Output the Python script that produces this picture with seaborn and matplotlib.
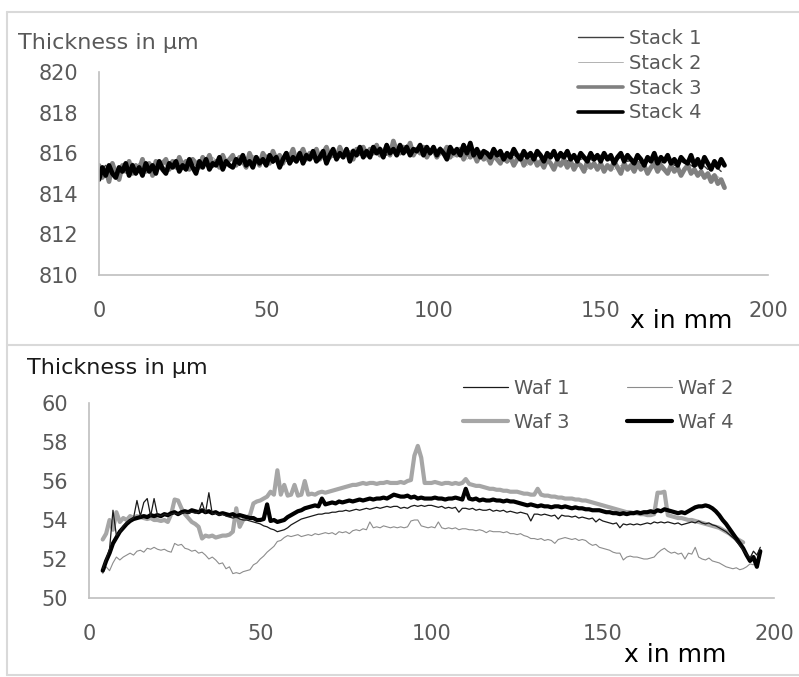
import numpy as np
import matplotlib
matplotlib.use("Agg")
import matplotlib.pyplot as plt
from matplotlib.lines import Line2D
import seaborn as sns

# ── Data : top panel (stacks) ────────────────────────────────────────────────
x_stack_fine = list(range(0, 188))          # mm, 1 mm steps
x_stack_coarse = list(range(0, 188, 2))     # mm, 2 mm steps

stack_4 = [
    814.7, 815.3, 814.9, 815.4, 815.0, 814.8, 815.3, 815.1, 815.5, 814.9,
    815.4, 815.0, 815.3, 814.9, 815.5, 815.1, 815.4, 815.0, 815.6, 815.2,
    815.0, 815.5, 815.3, 815.6, 815.1, 815.4, 815.2, 815.7, 815.3, 815.0,
    815.6, 815.3, 815.7, 815.2, 815.5, 815.4, 815.8, 815.2, 815.6, 815.4,
    815.3, 815.7, 815.5, 815.9, 815.4, 815.6, 815.3, 815.8, 815.5, 815.7,
    815.4, 815.9, 815.6, 815.8, 815.3, 815.7, 816.0, 815.5, 815.8, 815.6,
    816.0, 815.5, 815.9, 815.7, 816.1, 815.6, 815.8, 816.1, 815.5, 815.9,
    816.2, 815.7, 816.0, 815.8, 816.2, 815.6, 816.1, 815.9, 816.3, 815.8,
    816.1, 815.8, 816.3, 816.0, 816.2, 815.8, 816.4, 816.0, 816.2, 815.9,
    816.4, 816.0, 816.3, 815.9, 816.2, 816.1, 816.4, 815.9, 816.3, 816.0,
    816.3, 815.9, 816.2, 816.0, 815.7, 816.3, 816.0, 816.2, 815.9, 816.4,
    816.0, 816.5, 815.9, 816.2, 815.8, 816.1, 816.0, 815.8, 816.2, 815.9,
    816.1, 815.7, 816.0, 815.8, 816.2, 815.9, 815.7, 816.1, 815.8, 816.0,
    815.7, 816.1, 815.9, 815.6, 816.0, 815.8, 816.1, 815.7, 816.0, 815.8,
    816.1, 815.7, 815.9, 815.6, 816.0, 815.8, 815.6, 816.0, 815.7, 815.9,
    815.6, 816.0, 815.7, 815.9, 815.5, 815.8, 816.0, 815.6, 815.9, 815.7,
    815.5, 815.9, 815.7, 815.4, 815.8, 815.6, 816.0, 815.5, 815.8, 815.6,
    815.9, 815.5, 815.7, 815.4, 815.8, 815.6, 815.5, 815.9, 815.4, 815.7,
    815.3, 815.8, 815.5, 815.2, 815.6, 815.3, 815.7, 815.4,
]

stack_3 = [
    815.4, 814.8, 815.2, 814.6, 815.5, 815.0, 814.7, 815.4, 815.1, 815.6,
    815.0, 815.4, 815.2, 815.7, 815.1, 815.5, 814.9, 815.6, 815.3, 815.5,
    815.7, 815.2, 815.6, 815.3, 815.8, 815.4, 815.6, 815.2, 815.7, 815.5,
    815.3, 815.8, 815.5, 815.9, 815.4, 815.6, 815.3, 815.9, 815.5, 815.7,
    815.9, 815.4, 815.8, 815.6, 815.3, 816.0, 815.6, 815.8, 815.4, 816.0,
    815.7, 815.5, 816.1, 815.7, 815.9, 815.5, 816.0, 815.8, 816.2, 815.6,
    815.9, 816.2, 815.7, 816.0, 815.8, 816.2, 815.7, 816.0, 816.3, 815.8,
    816.1, 815.8, 816.3, 815.9, 816.1, 816.0, 815.7, 816.2, 816.0, 816.3,
    815.9, 816.2, 816.0, 816.4, 815.9, 816.1, 816.3, 815.9, 816.6, 816.1,
    816.0, 816.3, 816.1, 816.5, 815.9, 816.2, 816.0, 816.3, 815.8, 816.1,
    816.2, 815.8, 816.1, 816.0, 816.3, 815.8, 816.1, 815.9, 816.2, 815.7,
    816.1, 815.8, 816.0, 815.6, 816.0, 815.7, 815.9, 815.5, 815.9, 815.7,
    815.5, 815.9, 815.6, 815.8, 815.4, 815.7, 815.9, 815.4, 815.7, 815.5,
    815.8, 815.4, 815.6, 815.3, 815.7, 815.5, 815.2, 815.6, 815.4, 815.7,
    815.3, 815.6, 815.2, 815.5, 815.4, 815.1, 815.6, 815.3, 815.5, 815.2,
    815.5, 815.1, 815.4, 815.2, 815.6, 815.3, 815.0, 815.5, 815.2, 815.4,
    815.1, 815.5, 815.2, 815.4, 815.0, 815.3, 815.5, 815.1, 815.4, 815.2,
    815.0, 815.4, 815.1, 815.3, 814.9, 815.2, 815.4, 815.0, 815.2, 814.9,
    815.1, 814.8, 815.0, 814.6, 814.9, 814.5, 814.7, 814.3,
]

stack_1 = [
    815.1, 815.4, 815.0, 815.3, 815.2, 815.5, 815.1, 815.4, 815.3, 815.6,
    815.2, 815.5, 815.4, 815.3, 815.6, 815.4, 815.7, 815.3, 815.6, 815.5,
    815.7, 815.4, 815.8, 815.5, 815.6, 815.9, 815.5, 815.8, 815.6, 815.9,
    815.7, 816.0, 815.8, 815.7, 816.1, 815.8, 816.0, 815.9, 816.2, 815.9,
    816.1, 816.0, 816.3, 815.9, 816.2, 816.1, 816.4, 816.0, 816.2, 816.1,
    816.0, 816.3, 815.9, 816.1, 816.0, 816.2, 815.8, 816.1, 815.9, 816.0,
    815.8, 816.0, 815.9, 815.7, 816.0, 815.8, 815.9, 815.7, 815.9, 815.8,
    815.6, 815.9, 815.7, 815.8, 815.6, 815.9, 815.7, 815.6, 815.8, 815.6,
    815.7, 815.5, 815.8, 815.6, 815.5, 815.7, 815.4, 815.6, 815.5, 815.3,
    815.5, 815.2, 815.4, 815.1,
]

stack_2 = [
    815.2, 814.9, 815.3, 815.1, 815.4, 815.2, 815.5, 815.3, 815.4, 815.6,
    815.4, 815.6, 815.5, 815.3, 815.7, 815.5, 815.6, 815.8, 815.5, 815.7,
    815.6, 815.8, 815.7, 815.9, 815.6, 815.8, 816.0, 815.7, 815.9, 815.8,
    816.0, 815.8, 816.1, 815.9, 816.0, 816.2, 815.9, 816.1, 816.0, 816.2,
    816.0, 816.3, 816.1, 816.0, 816.2, 816.1, 816.3, 815.9, 816.2, 816.0,
    816.1, 815.9, 816.0, 815.8, 816.0, 815.7, 815.9, 815.8, 815.6, 815.8,
    815.7, 815.5, 815.8, 815.6, 815.4, 815.7, 815.5, 815.6, 815.4, 815.5,
    815.3, 815.5, 815.4, 815.2, 815.5, 815.3, 815.4, 815.2, 815.4, 815.3,
    815.2, 815.4, 815.1, 815.3, 815.2, 815.0, 815.3, 815.1, 815.2, 815.0,
    815.1, 814.8, 815.0, 814.7,
]

# ── Data : bottom panel (wafers) ─────────────────────────────────────────────
x_waf = list(range(4, 197))                 # mm, 1 mm steps

waf_4 = [
    51.4, 51.9, 52.3, 52.8, 53.1, 53.4, 53.6, 53.8, 53.95, 54.05,
    54.1, 54.15, 54.2, 54.15, 54.25, 54.2,
    54.25, 54.2, 54.3, 54.25, 54.35, 54.4, 54.3, 54.4, 54.45, 54.4,
    54.5, 54.45, 54.4, 54.5, 54.4, 54.45, 54.35, 54.4, 54.3, 54.35,
    54.3, 54.25, 54.3, 54.2, 54.25, 54.2, 54.15, 54.1, 54.1, 54.0,
    54.0, 54.05, 54.8, 53.95, 54.0, 53.9, 53.95, 54.0, 54.15, 54.25,
    54.35, 54.45, 54.5, 54.6, 54.65, 54.7, 54.75, 54.7, 55.1, 54.8,
    54.85, 54.9, 54.85, 54.95, 54.9, 54.95, 55.0, 54.95, 55.0, 55.05,
    55.0, 55.05, 55.1, 55.05, 55.1, 55.1, 55.15, 55.1, 55.2, 55.3,
    55.25, 55.2, 55.2, 55.25, 55.15, 55.2, 55.1, 55.15, 55.1, 55.1,
    55.1, 55.15, 55.1, 55.1, 55.05, 55.1, 55.1, 55.15, 55.1, 55.05,
    55.6, 55.1, 55.05, 55.1, 55.0, 55.05, 55.0, 55.0, 55.05, 55.0,
    55.0, 54.95, 55.0, 54.95, 54.95, 54.9, 54.85, 54.8, 54.75, 54.8,
    54.75, 54.7, 54.75, 54.7, 54.7, 54.65, 54.7, 54.7, 54.65, 54.7,
    54.65, 54.6, 54.65, 54.6, 54.6, 54.55, 54.55, 54.5, 54.5, 54.5,
    54.45, 54.4, 54.4, 54.35, 54.35, 54.3, 54.35, 54.3, 54.35, 54.35,
    54.4, 54.35, 54.4, 54.4, 54.45, 54.4, 54.5, 54.45, 54.55, 54.5,
    54.45, 54.4, 54.35, 54.4, 54.35, 54.45, 54.55, 54.65, 54.7, 54.7,
    54.75, 54.7, 54.6, 54.45, 54.25, 54.0, 53.8, 53.55, 53.3, 53.05,
    52.8, 52.55, 52.2, 51.9, 52.1, 51.6, 52.4,
]

waf_1 = [
    51.5, 52.0, 52.5, 54.5, 53.2, 53.4, 53.7, 53.85, 54.0, 54.1,
    55.0, 54.2, 54.9, 55.1, 54.2, 55.1,
    54.25, 54.2, 54.3, 54.25, 54.3, 54.35, 54.3, 54.35, 54.4, 54.35,
    54.4, 54.35, 54.4, 54.9, 54.35, 55.4, 54.3, 54.35, 54.25, 54.3,
    54.2, 54.15, 54.1, 54.15, 54.05, 54.0, 54.0, 53.95, 53.9, 53.85,
    53.8, 53.7, 53.65, 53.55, 53.5, 53.4, 53.45, 53.5, 53.6, 53.75,
    53.85, 53.95, 54.05, 54.1, 54.15, 54.2, 54.25, 54.3, 54.3, 54.35,
    54.35, 54.4, 54.4, 54.45, 54.45, 54.5, 54.45, 54.5, 54.55, 54.5,
    54.55, 54.6, 54.55, 54.6, 54.65, 54.6, 54.65, 54.7, 54.65, 54.7,
    54.7, 54.6, 54.65, 54.6, 54.7, 54.75, 54.7, 54.75, 54.7, 54.75,
    54.75, 54.7, 54.65, 54.7, 54.6, 54.65, 54.6, 54.65, 54.4, 54.6,
    54.6, 54.55, 54.6, 54.5, 54.55, 54.5, 54.5, 54.55, 54.45, 54.5,
    54.45, 54.5, 54.4, 54.45, 54.4, 54.35, 54.4, 54.35, 54.3, 53.95,
    54.3, 54.3, 54.25, 54.3, 54.25, 54.2, 54.25, 54.05, 54.25, 54.2,
    54.2, 54.15, 54.2, 54.1, 54.15, 54.1, 54.05, 54.1, 53.9, 54.05,
    53.95, 53.9, 53.85, 53.8, 53.85, 53.6, 53.8, 53.75, 53.8, 53.75,
    53.8, 53.75, 53.8, 53.85, 53.8, 53.9, 53.85, 53.9, 53.85, 53.9,
    53.85, 53.8, 53.85, 53.75, 53.8, 53.85, 53.9, 53.85, 53.95, 53.85,
    53.8, 53.85, 53.75, 53.7, 53.6, 53.5, 53.4, 53.25, 53.1, 52.9,
    52.7, 52.45, 52.25, 52.05, 52.4, 52.2, 52.6,
]

waf_2 = [
    51.25, 51.6, 51.4, 51.8, 52.1, 51.95, 52.1, 52.2, 52.3, 52.2,
    52.4, 52.45, 52.35, 52.55, 52.5, 52.6,
    52.5, 52.45, 52.5, 52.4, 52.35, 52.8, 52.7, 52.75, 52.55, 52.5,
    52.4, 52.45, 52.3, 52.35, 52.2, 52.0, 52.1, 51.95, 51.75, 51.8,
    51.5, 51.6, 51.25, 51.3, 51.25, 51.35, 51.4, 51.45, 51.7, 51.8,
    52.0, 52.15, 52.35, 52.5, 52.65, 52.9, 52.95, 53.1, 53.2, 53.15,
    53.2, 53.25, 53.15, 53.2, 53.25, 53.2, 53.3, 53.25, 53.3, 53.35,
    53.3, 53.35, 53.25, 53.4, 53.35, 53.4, 53.3, 53.45, 53.5, 53.45,
    53.55, 53.5, 53.9, 53.6, 53.65, 53.6, 53.7, 53.65, 53.6, 53.65,
    53.6, 53.65, 53.6, 53.65, 53.95, 54.0, 54.0, 53.7, 53.65, 53.6,
    53.65, 53.6, 53.9, 53.6, 53.55, 53.6, 53.55, 53.6, 53.5, 53.55,
    53.55, 53.5, 53.5, 53.45, 53.5, 53.45, 53.35, 53.45, 53.4, 53.4,
    53.4, 53.35, 53.4, 53.3, 53.3, 53.25, 53.3, 53.2, 53.15, 53.05,
    53.05, 53.0, 53.05, 52.95, 53.0, 52.95, 52.8, 53.0, 53.05, 53.1,
    53.05, 53.0, 53.05, 52.95, 53.0, 52.95, 52.8, 52.7, 52.75, 52.6,
    52.55, 52.5, 52.45, 52.35, 52.3, 52.3, 51.95, 52.1, 52.15, 52.1,
    52.1, 52.05, 52.0, 52.0, 52.05, 52.1, 52.3, 52.45, 52.55, 52.4,
    52.3, 52.35, 52.25, 52.3, 52.0, 52.3, 52.25, 52.6, 52.1, 52.0,
    51.95, 52.05, 51.9, 51.85, 51.8, 51.7, 51.6, 51.55, 51.5, 51.55,
    51.45, 51.5, 51.6, 51.75, 51.7, 51.9, 52.2,
]

waf_3 = [
    53.0, 53.3, 54.0, 53.5, 54.4, 53.9, 54.1, 54.0, 54.2, 54.1,
    54.2, 54.15, 54.1, 54.05, 54.1, 54.0,
    54.0, 53.95, 54.0, 53.9, 54.3, 55.05, 55.0, 54.6, 54.3, 54.1,
    53.9, 53.8, 53.65, 53.05, 53.2, 53.15, 53.2, 53.1, 53.15, 53.2,
    53.2, 53.25, 53.4, 54.6, 53.65, 54.0, 54.1, 54.25, 54.85, 54.95,
    55.0, 55.1, 55.2, 55.45, 55.3, 56.55, 55.3, 55.8, 55.25, 55.3,
    55.8, 55.25, 55.3, 56.0, 55.3, 55.35, 55.3, 55.4, 55.45, 55.4,
    55.45, 55.5, 55.55, 55.6, 55.65, 55.7, 55.75, 55.8, 55.8, 55.85,
    55.9, 55.85, 55.9, 55.9, 55.85, 55.9, 55.9, 55.95, 55.9, 55.9,
    55.9, 55.95, 55.9, 56.0, 56.05, 57.3, 57.8, 57.2, 55.9, 55.9,
    55.9, 55.95, 55.9, 55.85, 55.9, 55.9, 55.85, 55.9, 55.85, 55.9,
    56.1, 55.85, 55.8, 55.75, 55.75, 55.7, 55.65, 55.6, 55.6, 55.55,
    55.55, 55.5, 55.5, 55.45, 55.45, 55.45, 55.4, 55.35, 55.35, 55.3,
    55.3, 55.6, 55.3, 55.25, 55.25, 55.2, 55.2, 55.15, 55.15, 55.1,
    55.1, 55.1, 55.05, 55.05, 55.0, 55.0, 54.95, 54.9, 54.85, 54.8,
    54.75, 54.7, 54.65, 54.6, 54.55, 54.5, 54.45, 54.4, 54.4, 54.35,
    54.35, 54.3, 54.3, 54.25, 54.25, 54.3, 55.4, 55.4, 55.45, 54.25,
    54.2, 54.15, 54.1, 54.1, 54.05, 54.0, 54.0, 53.95, 53.9, 53.85,
    53.8, 53.75, 53.7, 53.65, 53.6, 53.5, 53.4, 53.3, 53.15, 53.05,
    52.95, 52.85, np.nan, np.nan, np.nan, np.nan, np.nan,
]

# ── Style ────────────────────────────────────────────────────────────────────
sns.set_style("white")
plt.rcParams["font.family"] = ["DejaVu Sans"]

TICK_GREY = "#595959"
AXIS_GREY = "#bfbfbf"
BORDER    = "#d9d9d9"

W, H = 799, 677
fig = plt.figure(figsize=(W / 100, H / 100), dpi=100)


def fx(px):
    return px / W


def fy(py):
    return 1 - py / H


# panel frames (light grey lines)
for y in (12, 345, 675):
    fig.add_artist(Line2D([fx(7), 1], [fy(y), fy(y)], color=BORDER, lw=1.5))
fig.add_artist(Line2D([fx(7), fx(7)], [fy(12), fy(675)], color=BORDER, lw=1.5))

ax_top = fig.add_axes([fx(99), fy(275), fx(768 - 99), (275 - 72) / H])
ax_bot = fig.add_axes([fx(89), fy(598), fx(774 - 89), (598 - 403) / H])


def style_axis(ax, ylim, yticks):
    ax.set_xlim(0, 200)
    ax.set_ylim(*ylim)
    ax.set_xticks([0, 50, 100, 150, 200])
    ax.set_yticks(yticks)
    for s in ("top", "right"):
        ax.spines[s].set_visible(False)
    for s in ("left", "bottom"):
        ax.spines[s].set_color(AXIS_GREY)
        ax.spines[s].set_linewidth(1.2)
    ax.tick_params(axis="both", colors=AXIS_GREY, labelcolor=TICK_GREY,
                   labelsize=15, length=7, width=1.2, direction="out")
    ax.tick_params(axis="x", pad=12)
    ax.tick_params(axis="y", pad=8)
    ax.set_xlabel("")
    ax.set_ylabel("")
    ax.set_facecolor("white")


# ── Top panel ────────────────────────────────────────────────────────────────
# (name, x, y, colour, plot lw, legend lw)
top_series = [
    ("Stack 1", x_stack_coarse, stack_1, "#404040", 1.0, 1.0),
    ("Stack 2", x_stack_coarse, stack_2, "#a6a6a6", 0.6, 0.6),
    ("Stack 3", x_stack_fine,   stack_3, "#808080", 3.4, 2.6),
    ("Stack 4", x_stack_fine,   stack_4, "#000000", 3.4, 2.6),
]
for name, xs, ys, col, lw, _ in top_series:
    sns.lineplot(x=xs, y=ys, ax=ax_top, color=col, lw=lw,
                 estimator=None, errorbar=None, legend=False)
style_axis(ax_top, (810, 820), [810, 812, 814, 816, 818, 820])

h_top = [Line2D([], [], color=c, lw=llw) for _, _, _, c, _, llw in top_series]
leg = ax_top.legend(h_top, [s[0] for s in top_series], loc="upper left",
                    bbox_to_anchor=(fx(578), fy(29)), bbox_transform=fig.transFigure,
                    frameon=False, fontsize=14, borderpad=0, borderaxespad=0,
                    handlelength=2.3, handletextpad=0.3, labelspacing=0.3)
for t in leg.get_texts():
    t.set_color(TICK_GREY)

fig.text(fx(18), fy(43), "Thickness in µm", fontsize=16, color=TICK_GREY,
         ha="left", va="center")
fig.text(fx(681), fy(321), "x in mm", fontsize=18, color="black",
         ha="center", va="center")

# ── Bottom panel ─────────────────────────────────────────────────────────────
bot_series = {
    "Waf 1": (waf_1, "#1a1a1a", 0.9),
    "Waf 2": (waf_2, "#8c8c8c", 0.8),
    "Waf 3": (waf_3, "#a6a6a6", 3.0),
    "Waf 4": (waf_4, "#000000", 3.0),
}
for name in ("Waf 3", "Waf 2", "Waf 4", "Waf 1"):
    ys, col, lw = bot_series[name]
    sns.lineplot(x=x_waf, y=ys, ax=ax_bot, color=col, lw=lw,
                 estimator=None, errorbar=None, legend=False)
style_axis(ax_bot, (50, 60), [50, 52, 54, 56, 58, 60])

order = ["Waf 1", "Waf 3", "Waf 2", "Waf 4"]
h_bot = [Line2D([], [], color=bot_series[n][1], lw=bot_series[n][2]) for n in order]
leg2 = ax_bot.legend(h_bot, order, loc="upper left", ncol=2,
                     bbox_to_anchor=(fx(463), fy(379)), bbox_transform=fig.transFigure,
                     frameon=False, fontsize=14, borderpad=0, borderaxespad=0,
                     handlelength=2.3, handletextpad=0.3, labelspacing=0.75,
                     columnspacing=3.0)
for t in leg2.get_texts():
    t.set_color(TICK_GREY)

fig.text(fx(27), fy(368), "Thickness in µm", fontsize=16, color="#1a1a1a",
         ha="left", va="center")
fig.text(fx(675), fy(655), "x in mm", fontsize=18, color="black",
         ha="center", va="center")

fig.savefig("out.png", dpi=100, facecolor="white")
